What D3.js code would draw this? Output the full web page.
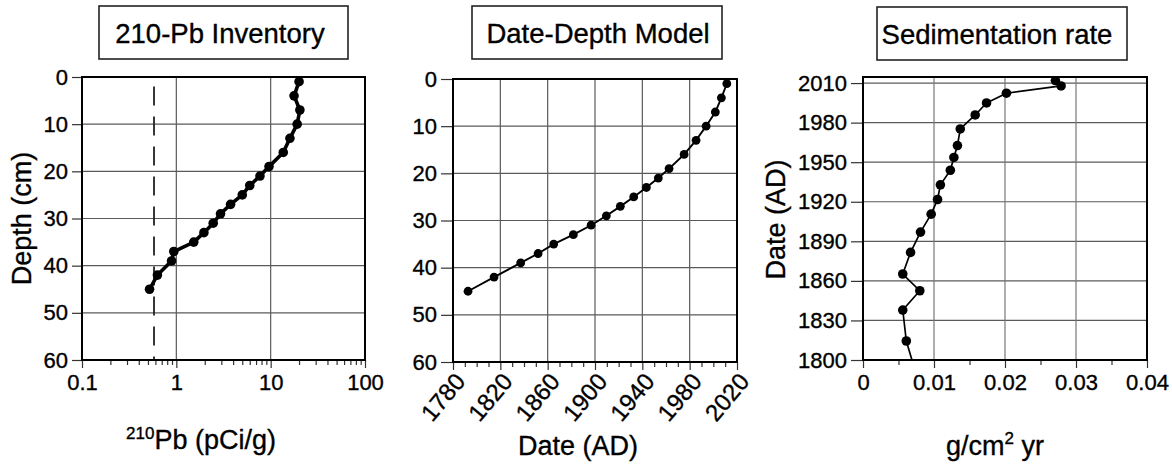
<!DOCTYPE html>
<html><head><meta charset="utf-8">
<script src="https://cdn.jsdelivr.net/npm/d3@7"></script>
<style>
html,body{margin:0;padding:0;background:#fff;}
svg text{font-family:"Liberation Sans",Arial,Helvetica,sans-serif;fill:#000;stroke:#000;stroke-width:0.35px;}
</style></head>
<body>
<svg id="chart" width="1172" height="466"></svg>
<script>
// ---------- data ----------
const depthCm = [1,4,7,10,13,16,19,21,23,25,27,29,31,33,35,37,39,42,45];
const pbActivity = [20.0,17.7,20.4,19.1,16.0,13.6,9.6,7.7,6.0,5.0,3.76,2.94,2.46,1.96,1.53,0.94,0.89,0.63,0.52];
const supportedPb = 0.58;
const modelDate = [2011.4,2006.8,2001.7,1993.9,1985.4,1975.3,1962.6,1953.5,1943.4,1932.7,1921.4,1909.6,1896.7,1881.7,1865.1,1851.9,1837.2,1814.7,1792.7];
const sedDate = [2011.9,2007.8,2002.3,1994.9,1985.8,1975.2,1962.6,1953.6,1943.9,1932.8,1921.7,1910.6,1897.0,1881.6,1865.2,1852.5,1837.9,1814.4,1792.7];
const sedRate = [0.0271,0.0279,0.0202,0.0174,0.0158,0.0137,0.0133,0.0128,0.0123,0.0109,0.0105,0.0096,0.0081,0.0067,0.0056,0.0080,0.0056,0.0061,0.0073];

const depthTicks = [0,10,20,30,40,50,60];
const pbTicks = [0.1,1,10,100];
const yearTicks = [1780,1820,1860,1900,1940,1980,2020];
const sedDateTicks = [1800,1830,1860,1890,1920,1950,1980,2010];
const rateTicks = [0,0.01,0.02,0.03,0.04];
const titles = ["210-Pb Inventory","Date-Depth Model","Sedimentation rate"];

// ---------- setup ----------
const svg = d3.select("#chart");
const GRID = "#5a5a5a";
const TICKFS = 22, TITLEFS = 27.5, AXFS = 27;

function frame(g, x0, x1, y0, y1){
  g.append("rect").attr("x",x0).attr("y",y0).attr("width",x1-x0).attr("height",y1-y0)
   .attr("fill","none").attr("stroke","#000").attr("stroke-width",2);
}
function titleBox(cx, x0, x1, y0, y1, text){
  svg.append("rect").attr("x",x0).attr("y",y0).attr("width",x1-x0).attr("height",y1-y0)
    .attr("fill","#fff").attr("stroke","#222").attr("stroke-width",1.6);
  svg.append("text").attr("x",cx).attr("y",(y0+y1)/2+10).attr("text-anchor","middle")
    .attr("font-size",TITLEFS).text(text);
}
function styleAxis(g){
  g.select(".domain").remove();
  g.selectAll(".tick line").attr("stroke","#333").attr("stroke-width",1.2);
  g.selectAll(".tick text").attr("font-size",TICKFS).attr("fill","#000");
}
function clip(id,x0,x1,y0,y1){
  svg.append("clipPath").attr("id",id).append("rect")
    .attr("x",x0).attr("y",y0).attr("width",x1-x0).attr("height",y1-y0);
}
function drawMarks(g, pts, xs, ys, lw, r, clipId){
  const gg = g.append("g").attr("clip-path",`url(#${clipId})`);
  gg.append("path").datum(pts)
    .attr("d", d3.line().x(d=>xs(d[0])).y(d=>ys(d[1])))
    .attr("fill","none").attr("stroke","#000").attr("stroke-width",lw).attr("stroke-linejoin","round");
  gg.selectAll("circle").data(pts).enter().append("circle")
    .attr("cx",d=>xs(d[0])).attr("cy",d=>ys(d[1])).attr("r",r).attr("fill","#000");
}

// ---------- Panel 1: 210-Pb inventory ----------
(function(){
  const x0=82,x1=365,y0=77,y1=360;
  const x = d3.scaleLog().domain([0.1,100]).range([x0,x1]);
  const y = d3.scaleLinear().domain([0,60]).range([y0,y1]);
  const g = svg.append("g");
  g.selectAll(".hg").data(depthTicks.slice(1,-1)).enter().append("line")
    .attr("x1",x0).attr("x2",x1).attr("y1",d=>y(d)).attr("y2",d=>y(d)).attr("stroke",GRID).attr("stroke-width",1.2);
  g.selectAll(".vg").data(pbTicks.slice(1,-1)).enter().append("line")
    .attr("y1",y0).attr("y2",y1).attr("x1",d=>x(d)).attr("x2",d=>x(d)).attr("stroke",GRID).attr("stroke-width",1.2);
  const minor = [];
  for (let dec of [0.1,1,10]) for (let k=2;k<=9;k++) minor.push(dec*k);
  const ax = g.append("g").attr("transform",`translate(0,${y1})`)
    .call(d3.axisBottom(x).tickValues(minor).tickSize(5).tickFormat(""));
  styleAxis(ax);
  const axM = g.append("g").attr("transform",`translate(0,${y1})`)
    .call(d3.axisBottom(x).tickValues(pbTicks).tickSize(8).tickPadding(6).tickFormat(d3.format("~g")));
  styleAxis(axM);
  const ayM = g.append("g").attr("transform",`translate(${x0},0)`)
    .call(d3.axisLeft(y).tickValues(depthTicks).tickSize(10).tickPadding(4));
  styleAxis(ayM);
  g.append("line").attr("x1",x(supportedPb)).attr("x2",x(supportedPb)).attr("y1",y(2)).attr("y2",y1)
    .attr("stroke","#222").attr("stroke-width",1.8).attr("stroke-dasharray","19,11");
  clip("c1",x0,x1,y0,y1);
  drawMarks(g, depthCm.map((d,i)=>[pbActivity[i],d]), x, y, 3.6, 4.8, "c1");
  frame(g,x0,x1,y0,y1);
  const t = svg.append("text").attr("x",201).attr("y",449).attr("text-anchor","middle").attr("font-size",AXFS);
  t.append("tspan").attr("font-size",17).attr("dy",-10).text("210");
  t.append("tspan").attr("dy",10).text("Pb (pCi/g)");
  svg.append("text").attr("transform",`translate(31,${(y0+y1)/2})rotate(-90)`).attr("text-anchor","middle")
    .attr("font-size",AXFS).text("Depth (cm)");
  titleBox(220,99,348,6,59,titles[0]);
})();

// ---------- Panel 2: Date-depth model ----------
(function(){
  const x0=453,x1=737,y0=79,y1=362;
  const x = d3.scaleLinear().domain([1780,2020]).range([x0,x1]);
  const y = d3.scaleLinear().domain([0,60]).range([y0,y1]);
  const g = svg.append("g");
  g.selectAll(".hg").data(depthTicks.slice(1,-1)).enter().append("line")
    .attr("x1",x0).attr("x2",x1).attr("y1",d=>y(d)).attr("y2",d=>y(d)).attr("stroke",GRID).attr("stroke-width",1.2);
  g.selectAll(".vg").data(yearTicks.slice(1,-1)).enter().append("line")
    .attr("y1",y0).attr("y2",y1).attr("x1",d=>x(d)).attr("x2",d=>x(d)).attr("stroke",GRID).attr("stroke-width",1.2);
  const minor = d3.range(1790,2020,10).filter(v=>(v-1780)%40!==0);
  const ax = g.append("g").attr("transform",`translate(0,${y1})`)
    .call(d3.axisBottom(x).tickValues(minor).tickSize(5).tickFormat(""));
  styleAxis(ax);
  const axM = g.append("g").attr("transform",`translate(0,${y1})`)
    .call(d3.axisBottom(x).tickValues(yearTicks).tickSize(8).tickFormat(d3.format("d")));
  styleAxis(axM);
  axM.selectAll(".tick text").attr("font-size",24).attr("text-anchor","end").attr("dy",0).attr("y",0)
    .attr("transform","translate(13,20) rotate(-50)");
  const ayM = g.append("g").attr("transform",`translate(${x0},0)`)
    .call(d3.axisLeft(y).tickValues(depthTicks).tickSize(12).tickPadding(4));
  styleAxis(ayM);
  clip("c2",x0,x1,y0,y1);
  drawMarks(g, depthCm.map((d,i)=>[modelDate[i],d]), x, y, 1.9, 4.4, "c2");
  frame(g,x0,x1,y0,y1);
  svg.append("text").attr("x",578).attr("y",455).attr("text-anchor","middle").attr("font-size",AXFS).text("Date (AD)");
  titleBox(598,472,722,6,59,titles[1]);
})();

// ---------- Panel 3: Sedimentation rate ----------
(function(){
  const x0=863,x1=1147,y0=77,y1=360;
  const x = d3.scaleLinear().domain([0,0.04]).range([x0,x1]);
  const y = d3.scaleLinear().domain([1800,2014.6]).range([y1,y0]);
  const g = svg.append("g");
  g.selectAll(".hg").data(sedDateTicks.slice(1)).enter().append("line")
    .attr("x1",x0).attr("x2",x1).attr("y1",d=>y(d)).attr("y2",d=>y(d)).attr("stroke",GRID).attr("stroke-width",1.2);
  g.selectAll(".vg").data(rateTicks.slice(1,-1)).enter().append("line")
    .attr("y1",y0).attr("y2",y1).attr("x1",d=>x(d)).attr("x2",d=>x(d)).attr("stroke","#777").attr("stroke-width",1.2);
  const minor = [0.005,0.015,0.025,0.035];
  const ax = g.append("g").attr("transform",`translate(0,${y1})`)
    .call(d3.axisBottom(x).tickValues(minor).tickSize(5).tickFormat(""));
  styleAxis(ax);
  const axM = g.append("g").attr("transform",`translate(0,${y1})`)
    .call(d3.axisBottom(x).tickValues(rateTicks).tickSize(8).tickPadding(6).tickFormat(d3.format("~g")));
  styleAxis(axM);
  const ayM = g.append("g").attr("transform",`translate(${x0},0)`)
    .call(d3.axisLeft(y).tickValues(sedDateTicks).tickSize(12).tickPadding(4).tickFormat(d3.format("d")));
  styleAxis(ayM);
  clip("c3",x0,x1,y0,y1);
  drawMarks(g, sedDate.map((d,i)=>[sedRate[i],d]), x, y, 1.7, 4.8, "c3");
  frame(g,x0,x1,y0,y1);
  const t = svg.append("text").attr("x",995).attr("y",455).attr("text-anchor","middle").attr("font-size",AXFS);
  t.append("tspan").text("g/cm");
  t.append("tspan").attr("font-size",17).attr("dy",-11).text("2");
  t.append("tspan").attr("dy",11).text(" yr");
  svg.append("text").attr("transform",`translate(785,${(y0+y1)/2+1})rotate(-90)`).attr("text-anchor","middle")
    .attr("font-size",AXFS).text("Date (AD)");
  titleBox(997,877,1127,7,60,titles[2]);
})();
</script>
</body></html>
